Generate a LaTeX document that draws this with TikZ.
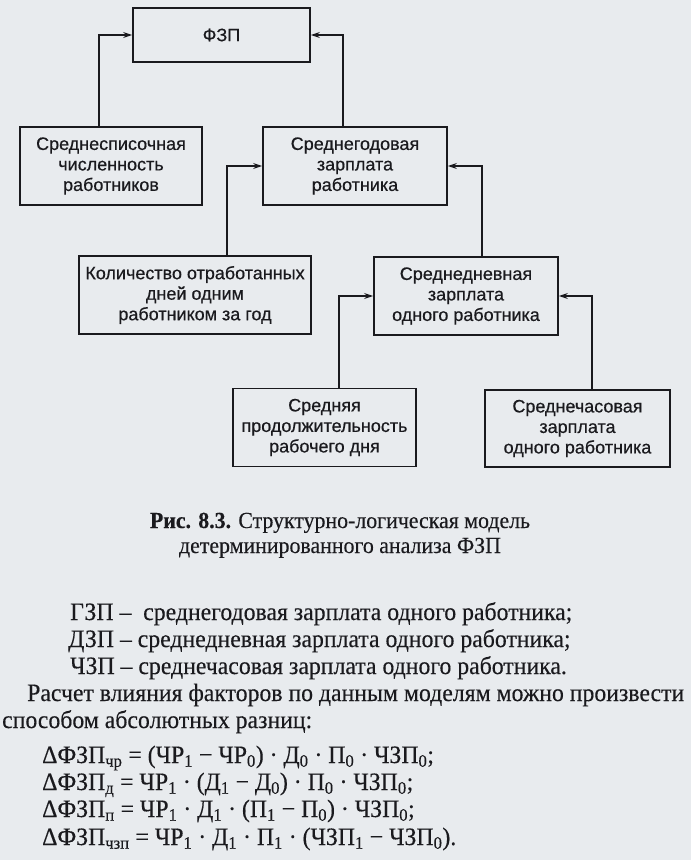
\documentclass[tikz,border=0pt]{standalone}
\usepackage{fontspec}
\setmainfont[FakeStretch=0.95, FakeBold=0.3]{Liberation Serif}
\setsansfont[FakeBold=0.5]{Liberation Sans}
\usetikzlibrary{arrows.meta}

\definecolor{paper}{RGB}{232,235,238}
\definecolor{ink}{RGB}{26,26,30}

\begin{document}
\begin{tikzpicture}[x=1pt, y=-1pt, color=ink,
    box/.style={draw, line width=1.8pt, align=center, inner sep=0pt,
      minimum width=184pt, minimum height=78pt,
      font=\sffamily\fontsize{18}{20.5}\selectfont},
    link/.style={line width=1.2pt, -{Stealth[length=9pt, width=6pt]}},
    txt/.style={inner sep=0pt, anchor=base west, font=\fontsize{25}{27}\selectfont},
    capt/.style={inner sep=0pt, anchor=base, font=\fontsize{23}{25}\selectfont}]
  \fill[paper] (0,0) rectangle (691,860);
  \useasboundingbox (0,0) rectangle (691,860);

  \node[box, minimum width=177pt, minimum height=54pt] (fzp) at (221.5,35) {ФЗП};
  \node[box, minimum width=182pt] (ssch) at (111,166) {Среднесписочная\\численность\\работников};
  \node[box] (sgz) at (355,166) {Среднегодовая\\зарплата\\работника};
  \node[box, minimum width=232pt] (kol) at (195,295) {Количество отработанных\\дней одним\\работником за год};
  \node[box] (sdz) at (466,296) {Среднедневная\\зарплата\\одного работника};
  \node[box, minimum width=183pt] (spr) at (324.5,427.5) {Средняя\\продолжительность\\рабочего дня};
  \node[box, minimum width=185pt, minimum height=77pt] (schz) at (577.5,428.5) {Среднечасовая\\зарплата\\одного работника};

  \draw[link] ([xshift=-12pt]ssch.north) |- (fzp);
  \draw[link] ([xshift=-12pt]sgz.north) |- (fzp);
  \draw[link] ([xshift=32pt]kol.north) |- (sgz);
  \draw[link] ([xshift=16pt]sdz.north) |- (sgz);
  \draw[link] ([xshift=14.5pt]spr.north) |- (sdz);
  \draw[link] ([xshift=14.5pt]schz.north) |- (sdz);

  \node[capt] (cap1) at (340,528) {\textbf{Рис. 8.3.} Структурно-логическая модель};
  \node[capt] (cap2) at (340,553) {детерминированного анализа ФЗП};

  \node[txt] (gzp) at (70,620) {ГЗП –\ \ среднегодовая зарплата одного работника;};
  \node[txt] (dzp) at (68,647) {ДЗП – среднедневная зарплата одного работника;};
  \node[txt] (czp) at (70,674) {ЧЗП – среднечасовая зарплата одного работника.};
  \node[txt] (par1) at (27,701) {Расчет влияния факторов по данным моделям можно произвести};
  \node[txt] (par2) at (2,728) {способом абсолютных разниц:};
  \node[txt] (f1) at (42,763) {ΔФЗП\textsubscript{чр} = (ЧР\textsubscript{1} − ЧР\textsubscript{0}) · Д\textsubscript{0} · П\textsubscript{0} · ЧЗП\textsubscript{0};};
  \node[txt] (f2) at (42,790) {ΔФЗП\textsubscript{д} = ЧР\textsubscript{1} · (Д\textsubscript{1} − Д\textsubscript{0}) · П\textsubscript{0} · ЧЗП\textsubscript{0};};
  \node[txt] (f3) at (42,817) {ΔФЗП\textsubscript{п} = ЧР\textsubscript{1} · Д\textsubscript{1} · (П\textsubscript{1} − П\textsubscript{0}) · ЧЗП\textsubscript{0};};
  \node[txt] (f4) at (42,845) {ΔФЗП\textsubscript{чзп} = ЧР\textsubscript{1} · Д\textsubscript{1} · П\textsubscript{1} · (ЧЗП\textsubscript{1} − ЧЗП\textsubscript{0}).};
\end{tikzpicture}
\end{document}
